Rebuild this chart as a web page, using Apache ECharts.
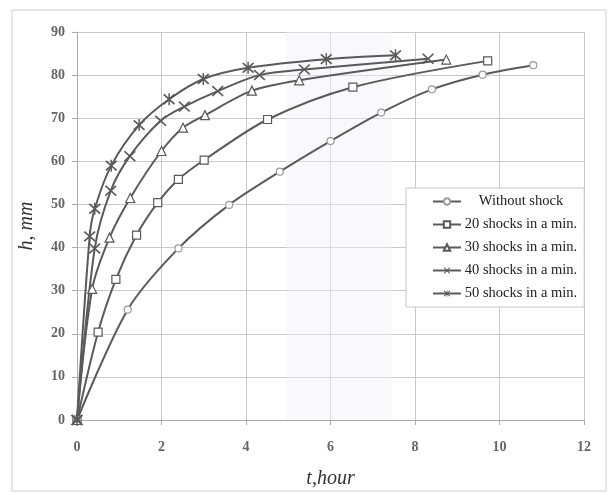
<!DOCTYPE html>
<html>
<head>
<meta charset="utf-8">
<script src="https://cdn.jsdelivr.net/npm/echarts@6/dist/echarts.min.js"></script>
<style>
  html, body { margin: 0; padding: 0; background: #fff; }
  #chart { width: 616px; height: 494px; }
</style>
</head>
<body>
<div id="chart"></div>
<script>
// data
var seriesNames = ['Without shock', '20 shocks in a min.', '30 shocks in a min.', '40 shocks in a min.', '50 shocks in a min.'];

var t0 = [0, 1.2, 2.4, 3.6, 4.8, 6.0, 7.2, 8.4, 9.6, 10.8];
var h0 = [0, 25.6, 39.8, 49.9, 57.6, 64.7, 71.3, 76.7, 80.1, 82.3];

var t20 = [0, 0.5, 0.92, 1.41, 1.91, 2.4, 3.01, 4.51, 6.53, 9.72];
var h20 = [0, 20.4, 32.6, 42.9, 50.4, 55.8, 60.3, 69.7, 77.2, 83.3];

var t30 = [0, 0.36, 0.77, 1.26, 2.0, 2.51, 3.03, 4.14, 5.26, 8.74];
var h30 = [0, 30.4, 42.3, 51.5, 62.4, 67.8, 70.7, 76.4, 78.8, 83.6];

var t40 = [0, 0.42, 0.8, 1.25, 1.98, 2.54, 3.33, 4.32, 5.38, 8.31];
var h40 = [0, 39.8, 53.2, 61.2, 69.4, 72.7, 76.3, 80.0, 81.3, 83.8];

var t50 = [0, 0.3, 0.42, 0.81, 1.47, 2.18, 2.99, 4.05, 5.9, 7.54];
var h50 = [0, 42.6, 49.0, 59.0, 68.4, 74.4, 79.1, 81.7, 83.7, 84.6];

var shadeBand = [4.95, 7.45]; // faint scan shading

function pairs(xs, ys) {
    var out = [];
    for (var i = 0; i < xs.length; i++) {
        out.push([xs[i], ys[i]]);
    }
    return out;
}

var xMark = 'path://M0,1 L1,0 L5,4 L9,0 L10,1 L6,5 L10,9 L9,10 L5,6 L1,10 L0,9 L4,5 Z';
var starMark = 'path://M0,1.5 L1,0.5 L5,4 L9,0.5 L10,1.5 L6,5 L10,8.5 L9,9.5 L5,6 L1,9.5 L0,8.5 L4,5 Z M4.4,0 L5.6,0 L5.6,10 L4.4,10 Z';

var lineColor = '#5a5a5a';
var serif = '"Liberation Serif", "DejaVu Serif", serif';

function makeSeries(name, xs, ys, symbol, size, fill, border) {
    return {
        name: name,
        type: 'line',
        data: pairs(xs, ys),
        smooth: 0.3,
        symbol: symbol,
        symbolSize: size,
        showAllSymbol: true,
        lineStyle: { color: lineColor, width: 2 },
        itemStyle: { color: fill, borderColor: border, borderWidth: fill === lineColor ? 0 : 1.2 },
        emphasis: { disabled: true },
        z: 3
    };
}

var series = [
    makeSeries(seriesNames[0], t0, h0, 'circle', 7, '#fff', '#9a9a9a'),
    makeSeries(seriesNames[1], t20, h20, 'rect', 8, '#fff', lineColor),
    makeSeries(seriesNames[2], t30, h30, 'triangle', 9, '#fff', lineColor),
    makeSeries(seriesNames[3], t40, h40, xMark, [12, 11], lineColor, lineColor),
    makeSeries(seriesNames[4], t50, h50, starMark, [12, 12], lineColor, lineColor)
];

series[0].markArea = {
    silent: true,
    itemStyle: { color: 'rgba(240,242,248,0.45)' },
    data: [[{ xAxis: shadeBand[0] }, { xAxis: shadeBand[1] }]]
};

var chart = echarts.init(document.getElementById('chart'));
chart.setOption({
    animation: false,
    backgroundColor: '#fff',
    graphic: [{
        type: 'rect',
        shape: { x: 12, y: 10, width: 594, height: 481 },
        style: { fill: 'none', stroke: '#cfcfcf', lineWidth: 1 },
        silent: true
    }],
    grid: { left: 77, right: 32, top: 32, bottom: 71 },
    legend: {
        orient: 'vertical',
        left: 406,
        top: 188,
        padding: [6, 7, 6, 26],
        itemWidth: 28,
        itemHeight: 8,
        itemGap: 8,
        backgroundColor: '#fff',
        borderColor: '#c8c8c8',
        borderWidth: 1,
        borderRadius: 0,
        data: seriesNames,
        formatter: function (name) {
            return '{c|' + name + '}';
        },
        textStyle: {
            fontFamily: serif, fontSize: 14.5, color: '#222', padding: [0, 0, 0, -1],
            rich: {
                c: { fontFamily: serif, fontSize: 14.5, lineHeight: 15, color: '#222', width: 112, align: 'center' }
            }
        }
    },
    xAxis: {
        type: 'value',
        min: 0,
        max: 12,
        interval: 2,
        name: 't,hour',
        nameLocation: 'middle',
        nameGap: 49,
        nameTextStyle: { fontFamily: serif, fontStyle: 'italic', fontSize: 20, color: '#333' },
        axisLine: { show: true, lineStyle: { color: '#aaa' } },
        axisTick: { show: true, length: 5, lineStyle: { color: '#aaa' } },
        axisLabel: { fontFamily: serif, fontSize: 14, fontWeight: 'bold', color: '#666', margin: 20 },
        splitLine: { show: true, lineStyle: { color: '#c9c9c9' } }
    },
    yAxis: {
        type: 'value',
        min: 0,
        max: 90,
        interval: 10,
        name: 'h, mm',
        nameLocation: 'middle',
        nameGap: 40,
        nameTextStyle: { fontFamily: serif, fontStyle: 'italic', fontSize: 20, color: '#333' },
        axisLine: { show: true, lineStyle: { color: '#aaa' } },
        axisTick: { show: true, length: 5, lineStyle: { color: '#aaa' } },
        axisLabel: { fontFamily: serif, fontSize: 14, fontWeight: 'bold', color: '#666', margin: 12 },
        splitLine: { show: true, lineStyle: { color: '#c9c9c9' } }
    },
    series: series
});
</script>
</body>
</html>
